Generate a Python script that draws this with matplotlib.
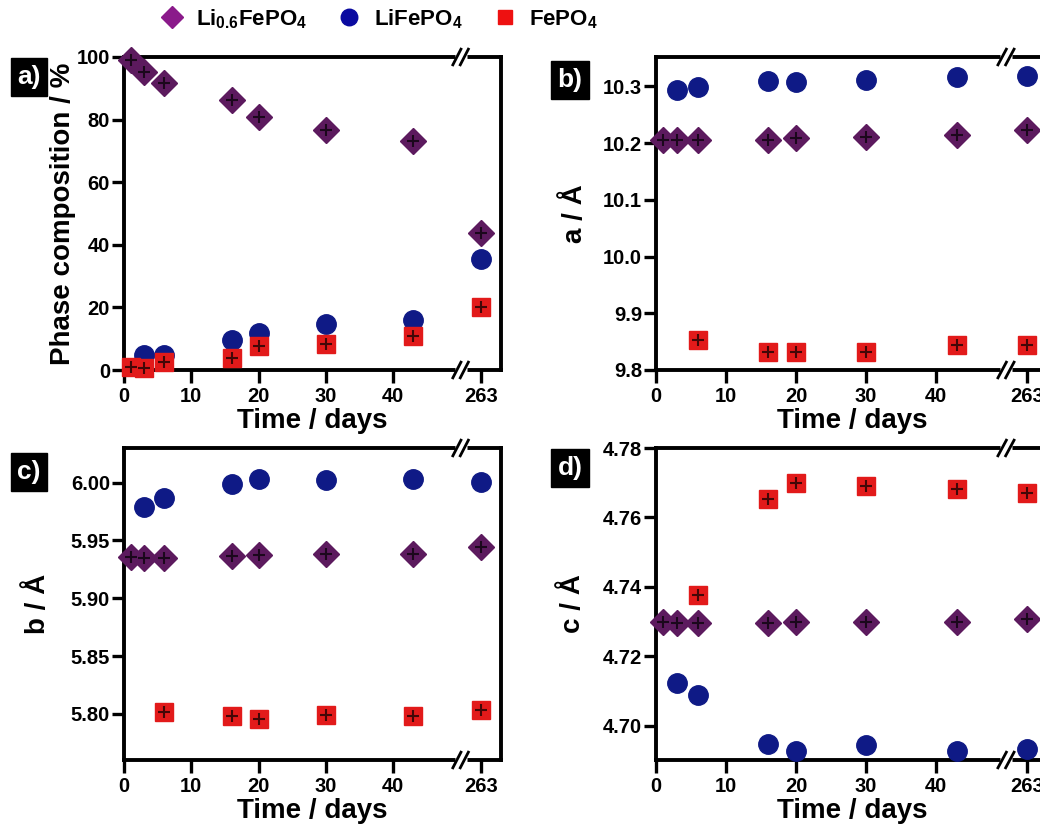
import numpy as np
import matplotlib
matplotlib.use("Agg")
import matplotlib.pyplot as plt
import matplotlib.transforms as mtransforms
from matplotlib.lines import Line2D

plt.rcParams['font.family'] = ['Liberation Sans', 'DejaVu Sans']
plt.rcParams['font.weight'] = 'bold'
plt.rcParams['mathtext.fontset'] = 'custom'
plt.rcParams['mathtext.rm'] = 'Liberation Sans:bold'
plt.rcParams['mathtext.bf'] = 'Liberation Sans:bold'
plt.rcParams['mathtext.it'] = 'Liberation Sans:bold'
plt.rcParams['mathtext.default'] = 'rm'

# ---------------- data ----------------
days = [1, 3, 6, 16, 20, 30, 43, 263]
tick_labels = ['0', '10', '20', '30', '40', '263']
tick_days = [0, 10, 20, 30, 40, 263]
break_day_linear_max = 47   # last day on linear part
pos_263 = 53                 # plotted position of day 263 after axis break
break_pos = 50

series_names = ['Li$_{0.6}$FePO$_4$', 'LiFePO$_4$', 'FePO$_4$']

phase_li06 = [99.0, 95.2, 91.7, 86.2, 80.9, 76.8, 73.1, 43.8]
phase_lfp = [np.nan, 4.8, 4.8, 9.6, 11.9, 14.6, 16.0, 35.6]
phase_fp = [1.0, 0.5, 2.7, 3.9, 7.7, 8.2, 10.9, 20.2]

a_li06 = [10.206, 10.205, 10.206, 10.206, 10.209, 10.211, 10.215, 10.224]
a_lfp = [np.nan, 10.293, 10.299, 10.309, 10.308, 10.312, 10.316, 10.318]
a_fp = [np.nan, np.nan, 9.853, 9.832, 9.832, 9.832, 9.844, 9.844]

b_li06 = [5.9356, 5.935, 5.935, 5.9365, 5.937, 5.9385, 5.9385, 5.944]
b_lfp = [np.nan, 5.979, 5.987, 5.999, 6.0035, 6.0026, 6.003, 6.0006]
b_fp = [np.nan, np.nan, 5.8014, 5.798, 5.7957, 5.7986, 5.798, 5.803]

c_li06 = [4.7300, 4.7297, 4.7297, 4.7297, 4.7300, 4.7298, 4.7298, 4.7309]
c_lfp = [np.nan, 4.7125, 4.7090, 4.6947, 4.6929, 4.6945, 4.6929, 4.6934]
c_fp = [np.nan, np.nan, 4.7377, 4.7652, 4.7700, 4.7690, 4.7683, 4.7670]

panels = [
    dict(tag='a)', ylabel='Phase composition / %', data=(phase_li06, phase_lfp, phase_fp),
         ylim=(0, 100), yticks=[0, 20, 40, 60, 80, 100], fmt='{:.0f}'),
    dict(tag='b)', ylabel='a / Å', data=(a_li06, a_lfp, a_fp),
         ylim=(9.8, 10.352), yticks=[9.8, 9.9, 10.0, 10.1, 10.2, 10.3], fmt='{:.1f}'),
    dict(tag='c)', ylabel='b / Å', data=(b_li06, b_lfp, b_fp),
         ylim=(5.76, 6.03), yticks=[5.80, 5.85, 5.90, 5.95, 6.00], fmt='{:.2f}'),
    dict(tag='d)', ylabel='c / Å', data=(c_li06, c_lfp, c_fp),
         ylim=(4.6902, 4.78), yticks=[4.70, 4.72, 4.74, 4.76, 4.78], fmt='{:.2f}'),
]

colors = ['#5c1a5e', '#0f1a86', '#e21a1a']
legend_colors = ['#8a1a8a', '#0a0aa0', '#ee1111']
markers = ['D', 'o', 's']
msizes = [13, 14, 12.5]
show_cross = [True, False, True]


def to_pos(d):
    return d if d <= break_day_linear_max else pos_263


W, H = 1040, 827
fig = plt.figure(figsize=(W / 100, H / 100), dpi=100)

# axes rectangles in pixels: left, top, right, bottom
rects = [
    (124, 57, 501, 370),
    (656, 57, 1048, 370),
    (124, 448, 501, 760),
    (656, 448, 1048, 760),
]
tag_pos = [(29, 77), (570, 80), (29, 472), (570, 468)]
ylab_right = [76, 588, 51, 586]

for p, (l, t, r, b), tp, yx in zip(panels, rects, tag_pos, ylab_right):
    ax = fig.add_axes([l / W, 1 - b / H, (r - l) / W, (b - t) / H])
    xpos = [to_pos(d) for d in days]
    for vals, c, m, ms, sc in zip(p['data'], colors, markers, msizes, show_cross):
        ax.plot(xpos, vals, linestyle='none', marker=m, markersize=ms,
                markerfacecolor=c, markeredgecolor=c, zorder=3, clip_on=False)
        if sc:
            ax.plot(xpos, vals, linestyle='none', marker='+', markersize=9,
                    markeredgewidth=1.5, color='black', alpha=0.7, zorder=4, clip_on=False)
    ax.set_xlim(0, 56)
    ax.set_ylim(*p['ylim'])
    ax.set_xticks([to_pos(d) for d in tick_days])
    ax.set_xticklabels(tick_labels)
    ax.set_yticks(p['yticks'])
    ax.set_yticklabels([p['fmt'].format(v) for v in p['yticks']])
    ax.tick_params(axis='both', direction='out', length=9, width=2.4,
                   labelsize=14.5, top=False, right=False)
    ax.tick_params(axis='x', pad=3)
    ax.tick_params(axis='y', pad=1)
    for s in ax.spines.values():
        s.set_linewidth(2.8)
    ax.set_xlabel('Time / days', fontsize=20, fontweight='bold', labelpad=2)
    ax.set_ylabel(p['ylabel'], fontsize=20, fontweight='bold')
    ax.yaxis.set_label_coords((yx - l) / (r - l), 0.5)

    # axis break marks on top and bottom spines
    trans = mtransforms.blended_transform_factory(ax.transData, ax.transAxes)
    for yb in (0, 1):
        ax.plot([break_pos - 0.9, break_pos + 0.9], [yb, yb], color='white',
                lw=5, transform=trans, clip_on=False, zorder=5, solid_capstyle='butt')
        for dx in (-0.55, 0.55):
            ax.plot([break_pos + dx - 0.6, break_pos + dx + 0.6],
                    [yb - 0.025, yb + 0.025], color='black', lw=2,
                    transform=trans, clip_on=False, zorder=6)

    fig.text(tp[0] / W, 1 - tp[1] / H, p['tag'], color='white', fontsize=19,
             fontweight='bold', ha='center', va='center',
             bbox=dict(boxstyle='square,pad=0.25', facecolor='black', edgecolor='black'))

handles = [Line2D([], [], linestyle='none', marker=m, markersize=ms * 0.85,
                  markerfacecolor=c, markeredgecolor=c)
           for m, ms, c in zip(markers, msizes, legend_colors)]
fig.legend(handles, series_names, loc='center', bbox_to_anchor=(378 / W, 1 - 19 / H),
           ncol=3, frameon=False, fontsize=16, handletextpad=0.5, columnspacing=1.3,
           handlelength=1.2, borderaxespad=0)

fig.savefig('out.png', dpi=100)
